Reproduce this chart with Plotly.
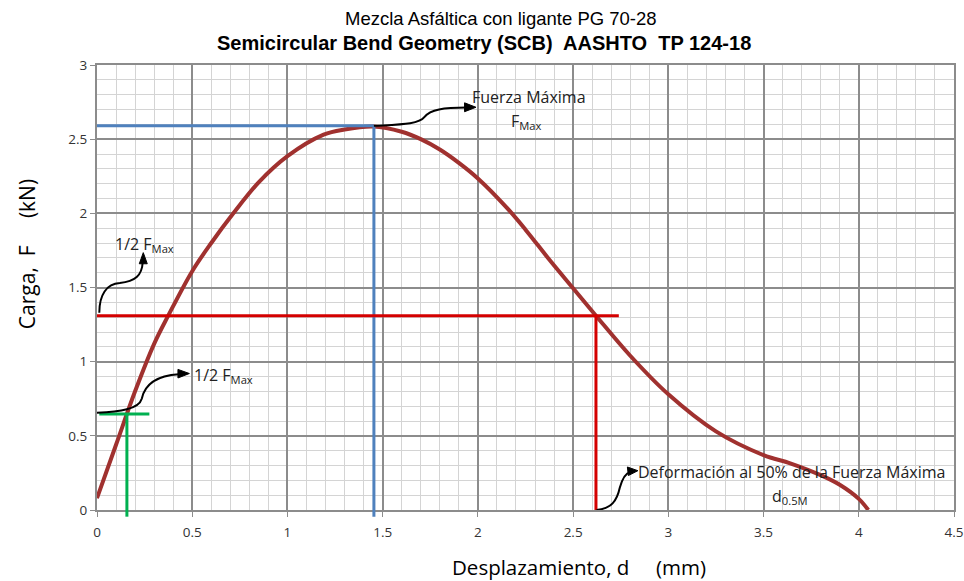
import plotly.graph_objects as go

# Load-displacement curve (SCB test)
disp_mm = [0.0, 0.1, 0.2, 0.3, 0.374, 0.5, 0.6, 0.716, 0.85, 1.0, 1.19, 1.3, 1.45,
           1.6, 1.7, 1.8, 1.9, 2.0, 2.15, 2.25, 2.38, 2.5, 2.62, 2.8, 3.0, 3.25,
           3.5, 3.64, 3.8, 3.9, 4.0, 4.05]
load_kN = [0.08, 0.44, 0.80, 1.12, 1.31, 1.61, 1.80, 2.0, 2.21, 2.385, 2.53, 2.565, 2.585,
           2.55, 2.50, 2.43, 2.34, 2.235, 2.04, 1.89, 1.68, 1.495, 1.31, 1.04, 0.78, 0.53,
           0.37, 0.315, 0.235, 0.17, 0.075, 0.0]

# Reference values marked on the chart
F_MAX = 2.59          # peak load (kN)
D_FMAX = 1.454        # displacement at peak (mm)
F_HALF = 1.31         # 50 % of peak load, post-peak line
D_05M = 2.62          # displacement at 50 % of peak load, post-peak
F_HALF_PRE = 0.647    # level marked on the rising branch
D_HALF_PRE = 0.157

x_ticks = [0, 0.5, 1, 1.5, 2, 2.5, 3, 3.5, 4, 4.5]
y_ticks = [0, 0.5, 1, 1.5, 2, 2.5, 3]

CURVE = "#A0312F"
BLUE = "#4F81BD"
RED = "#D40000"
GREEN = "#00B050"
FONT = "Open Sans, DejaVu Sans, sans-serif"
TITLE_FONT = "Liberation Sans, Arial, sans-serif"

fig = go.Figure()

fig.add_trace(go.Scatter(x=disp_mm, y=load_kN, mode="lines",
                         line=dict(color=CURVE, width=4, shape="spline", smoothing=1.0),
                         hoverinfo="x+y", showlegend=False))

shapes = []
# Peak load guide lines
shapes.append(dict(type="line", xref="x", yref="y", x0=0, x1=D_FMAX, y0=F_MAX, y1=F_MAX,
                   line=dict(color=BLUE, width=3)))
shapes.append(dict(type="line", xref="x", yref="paper", x0=D_FMAX, x1=D_FMAX, y0=-0.015, y1=F_MAX / 3,
                   line=dict(color=BLUE, width=3)))
# 50 % load guide lines
shapes.append(dict(type="line", xref="x", yref="y", x0=0, x1=2.74, y0=F_HALF, y1=F_HALF,
                   line=dict(color=RED, width=3)))
shapes.append(dict(type="line", xref="x", yref="y", x0=D_05M, x1=D_05M, y0=0, y1=F_HALF,
                   line=dict(color=RED, width=3)))
# Rising-branch marker
shapes.append(dict(type="line", xref="x", yref="y", x0=0.012, x1=0.275, y0=F_HALF_PRE, y1=F_HALF_PRE,
                   line=dict(color=GREEN, width=3)))
shapes.append(dict(type="line", xref="x", yref="paper", x0=D_HALF_PRE, x1=D_HALF_PRE, y0=-0.015,
                   y1=F_HALF_PRE / 3, line=dict(color=GREEN, width=3)))

# Curved pointer arrows (path + filled head)
arrow_paths = [
    "M 1.454,2.59 C 1.60,2.60 1.69,2.60 1.72,2.65 C 1.75,2.70 1.82,2.713 1.94,2.713",
    "M 0.012,1.33 C 0.012,1.45 0.05,1.525 0.12,1.53 C 0.20,1.54 0.236,1.58 0.24,1.67",
    "M 0.0,0.656 C 0.12,0.662 0.22,0.68 0.235,0.75 C 0.25,0.84 0.30,0.905 0.43,0.915",
    "M 2.623,0.0 C 2.70,0.01 2.73,0.06 2.745,0.15 C 2.76,0.22 2.78,0.25 2.80,0.255",
]
arrow_heads = [
    "M 1.99,2.715 L 1.93,2.745 L 1.93,2.685 Z",
    "M 0.243,1.735 L 0.222,1.66 L 0.264,1.66 Z",
    "M 0.485,0.92 L 0.425,0.948 L 0.425,0.89 Z",
    "M 2.84,0.265 L 2.785,0.29 L 2.79,0.232 Z",
]
for p in arrow_paths:
    shapes.append(dict(type="path", xref="x", yref="y", path=p,
                       line=dict(color="black", width=2)))
for p in arrow_heads:
    shapes.append(dict(type="path", xref="x", yref="y", path=p,
                       fillcolor="black", line=dict(color="black", width=1)))

annotations = [
    dict(x=1.958, y=2.785, text="Fuerza Máxima", xanchor="left", yanchor="middle"),
    dict(x=2.257, y=2.62, text="F<sub>Max</sub>", xanchor="center", yanchor="middle"),
    dict(x=0.082, y=1.787, text="1/2 F<sub>Max</sub>", xanchor="left", yanchor="middle"),
    dict(x=0.497, y=0.905, text="1/2 F<sub>Max</sub>", xanchor="left", yanchor="middle"),
    dict(x=2.83, y=0.254, text="Deformación al 50% de la Fuerza Máxima", xanchor="left", yanchor="middle"),
    dict(x=3.64, y=0.09, text="d<sub>0.5M</sub>", xanchor="center", yanchor="middle"),
]
for a in annotations:
    a.update(xref="x", yref="y", showarrow=False, font=dict(family=FONT, size=16, color="#222"))

# Titles
annotations += [
    dict(xref="paper", yref="paper", x=0.471, y=1.0, yshift=47, xanchor="center", yanchor="middle",
         text="Mezcla Asfáltica con ligante PG 70-28", showarrow=False,
         font=dict(family=TITLE_FONT, size=18.5, color="black")),
    dict(xref="paper", yref="paper", x=0.452, y=1.0, yshift=22, xanchor="center", yanchor="middle",
         text="<b>Semicircular Bend Geometry (SCB)  AASHTO  TP 124-18</b>", showarrow=False,
         font=dict(family=TITLE_FONT, size=20, color="black")),
    dict(xref="paper", yref="paper", x=0.563, y=0, yshift=-57, xanchor="center", yanchor="middle",
         text="Desplazamiento, d     (mm)", showarrow=False,
         font=dict(family=FONT, size=20.5, color="black")),
    dict(xref="paper", yref="paper", x=0, xshift=-70, y=0.575, xanchor="center", yanchor="middle",
         text="Carga,  F     (kN)", textangle=-90, showarrow=False,
         font=dict(family=FONT, size=21, color="black")),
]

axis_common = dict(
    showgrid=True, gridcolor="#8C8C8C", gridwidth=2,
    showline=True, linecolor="#8C8C8C", linewidth=2, mirror=True,
    ticks="outside", ticklen=5, tickcolor="#8C8C8C", tickwidth=1,
    tickfont=dict(family=FONT, size=13.5, color="#333"),
    zeroline=False, automargin=False,
)

fig.update_layout(
    width=964, height=581,
    margin=dict(l=97, r=10, t=65, b=71),
    paper_bgcolor="white", plot_bgcolor="white",
    shapes=shapes, annotations=annotations,
    xaxis=dict(range=[0, 4.5], tickvals=x_ticks, ticktext=[f"{v:g}" for v in x_ticks],
               ticklabelstandoff=4,
               minor=dict(dtick=0.1, showgrid=True, gridcolor="#D4D4D4", gridwidth=1, ticks=""),
               **axis_common),
    yaxis=dict(range=[0, 3], tickvals=y_ticks, ticktext=[f"{v:g}" for v in y_ticks],
               minor=dict(dtick=0.1, showgrid=True, gridcolor="#D4D4D4", gridwidth=1, ticks=""),
               **axis_common),
)

fig.write_html("out.html")
